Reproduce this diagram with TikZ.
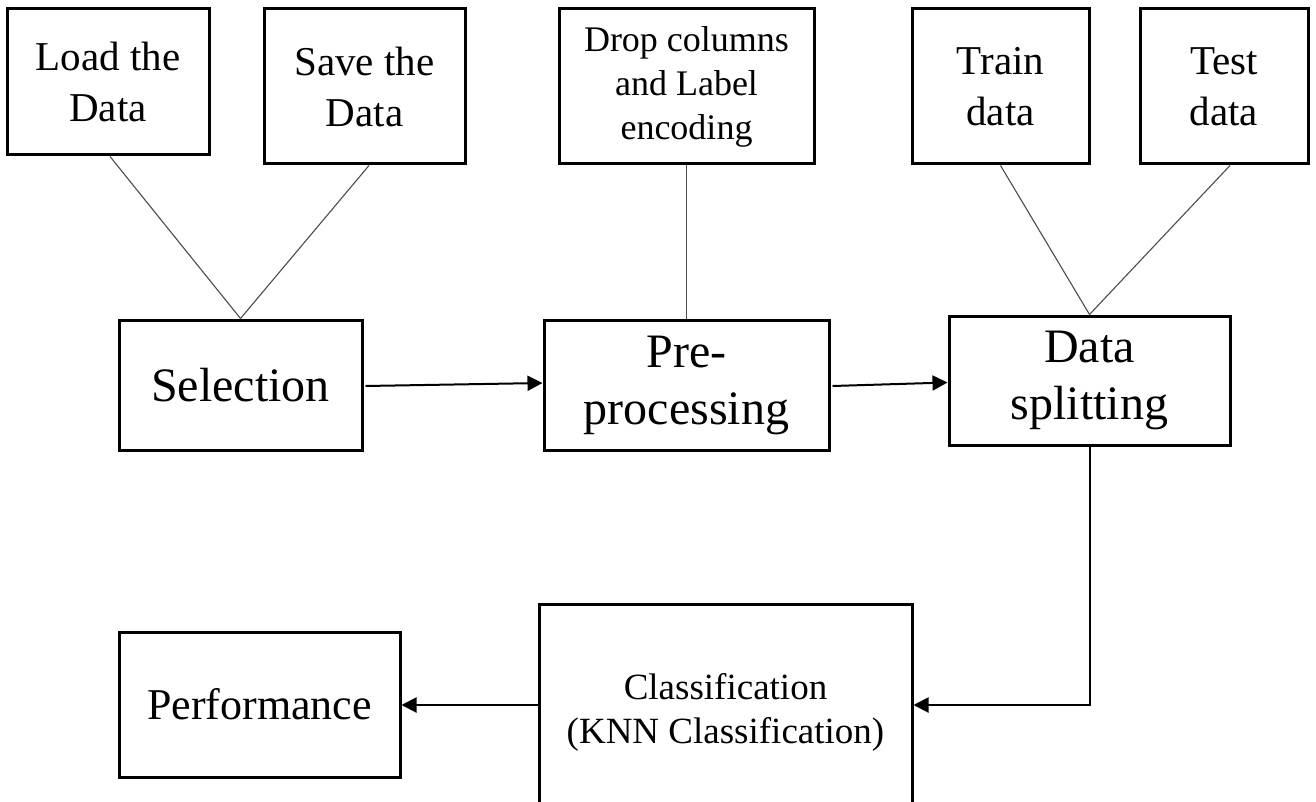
\documentclass[tikz,border=0pt]{standalone}
\usepackage{fontspec}
\setmainfont{Liberation Serif}
\usetikzlibrary{arrows.meta,calc}
\tikzset{
  box/.style={draw=black, line width=3pt, align=center, inner sep=0pt, text=black},
  topbox/.style={box, font=\fontsize{41}{51}\selectfont},
  midbox/.style={box, font=\fontsize{48}{57}\selectfont},
  link/.style={draw=black!70, line width=1.1pt},
  arr/.style={draw=black, line width=2pt, -{Triangle[length=15pt,width=15pt]}},
}
\begin{document}
\begin{tikzpicture}[x=1pt,y=-1pt]
\clip (0,0) rectangle (1316,802);
\fill[white] (0,0) rectangle (1316,802);
% top boxes
\node[topbox, minimum width=202, minimum height=146] (load) at (108,82) {Load the\\Data};
\node[topbox, minimum width=201, minimum height=155] (save) at (364.5,86.5) {Save the\\Data};
\node[box, font=\fontsize{36}{44}\selectfont, minimum width=255, minimum height=155] (drop) at (686.5,86.5) {Drop columns\\and Label\\encoding};
\node[topbox, minimum width=177, minimum height=155] (train) at (1000.5,86.5) {Train\\data};
\node[topbox, minimum width=168, minimum height=155] (test) at (1224,86.5) {Test\\data};
% middle row
\node[midbox, minimum width=243, minimum height=130] (sel) at (240.5,385) {Selection};
\node[midbox, minimum width=285, minimum height=130] (pre) at (686.5,385) {Pre-\\processing};
\node[midbox, minimum width=281, minimum height=129] (split) at (1089.5,380.5) {Data\\splitting};
% bottom row
\node[box, font=\fontsize{44}{52}\selectfont, minimum width=281, minimum height=145] (perf) at (259.5,704.5) {Performance};
\node[box, font=\fontsize{37}{44}\selectfont, minimum width=373, minimum height=216] (cls) at (725.5,712) {Classification\\(KNN Classification)};
% links
\draw[link] ($(load.south)+(2,0)$) -- (sel.north);
\draw[link] ($(save.south)+(4.5,0)$) -- (sel.north);
\draw[link] (drop.south) -- (pre.north);
\draw[link] (train.south) -- (split.north);
\draw[link] ($(test.south)+(6,0)$) -- (split.north);
% arrows
\draw[arr] ($(sel.east)+(2,1)$) -- ($(pre.west)+(0,-2)$);
\draw[arr] ($(pre.east)+(2,1)$) -- ($(split.west)+(0,2)$);
\coordinate (k) at (1089.5,705);
\draw[arr] (split.south) -- (k) -- (cls.east |- k);
\draw[arr] (cls.west |- k) -- (perf.east |- k);
\end{tikzpicture}
\end{document}
